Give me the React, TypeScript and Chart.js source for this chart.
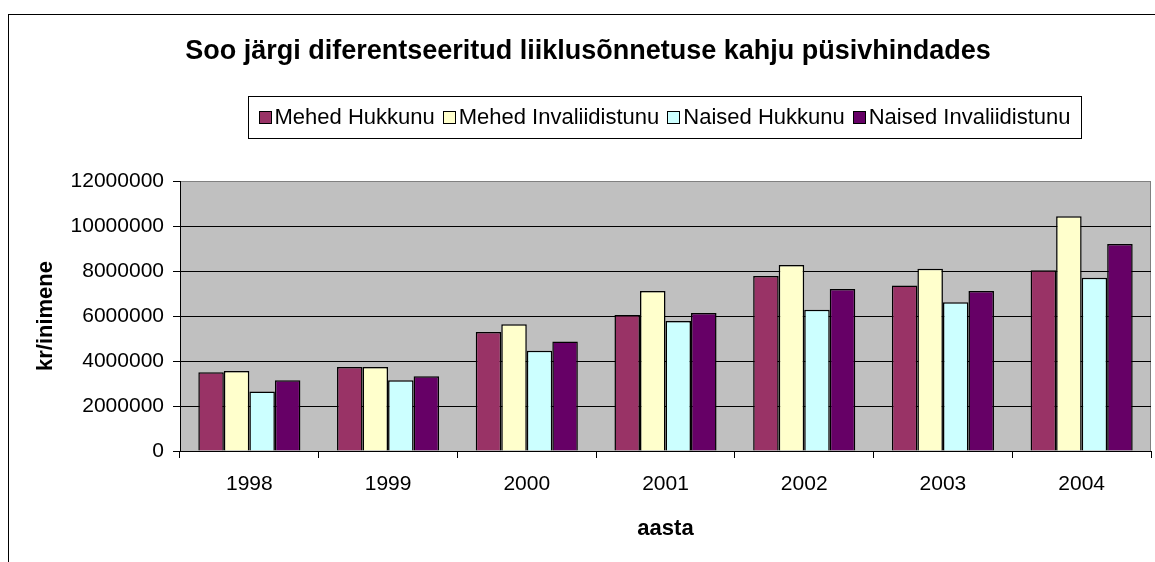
import React, { useEffect, useRef } from "react";
import { Chart, registerables } from "chart.js";

Chart.register(...registerables);

const years = ["1998", "1999", "2000", "2001", "2002", "2003", "2004"];
const mehedHukkunu = [3500000, 3730000, 5290000, 6040000, 7780000, 7360000, 8030000];
const mehedInvaliidistunu = [3560000, 3730000, 5630000, 7110000, 8270000, 8100000, 10430000];
const naisedHukkunu = [2650000, 3140000, 4460000, 5780000, 6280000, 6610000, 7700000];
const naisedInvaliidistunu = [3140000, 3320000, 4870000, 6130000, 7200000, 7110000, 9200000];
const seriesLabels = ["Mehed Hukkunu", "Mehed Invaliidistunu", "Naised Hukkunu", "Naised Invaliidistunu"];
const seriesColors = ["#993366", "#FFFFCC", "#CCFFFF", "#660066"];
const yTickValues = [0, 2000000, 4000000, 6000000, 8000000, 10000000, 12000000];
const titleText = "Soo järgi diferentseeritud liiklusõnnetuse kahju püsivhindades";
const yTitle = "kr/inimene";
const xTitle = "aasta";

const FONT = "'Liberation Sans', Arial, Helvetica, sans-serif";
const W = 1155;
const H = 562;

const framePlugin = {
  id: "framePlugin",
  beforeDraw(chart: any) {
    const { ctx, chartArea } = chart;
    ctx.save();
    ctx.fillStyle = "#ffffff";
    ctx.fillRect(0, 0, W, H);
    ctx.strokeStyle = "#000000";
    ctx.lineWidth = 1;
    ctx.strokeRect(8.5, 14.5, W + 10, H + 10);
    ctx.fillStyle = "#C0C0C0";
    ctx.fillRect(chartArea.left, chartArea.top, chartArea.right - chartArea.left, chartArea.bottom - chartArea.top);
    ctx.strokeStyle = "#808080";
    ctx.beginPath();
    ctx.moveTo(chartArea.left, chartArea.top + 0.5);
    ctx.lineTo(chartArea.right - 0.5, chartArea.top + 0.5);
    ctx.lineTo(chartArea.right - 0.5, chartArea.bottom);
    ctx.stroke();
    ctx.restore();
  },
  afterDraw(chart: any) {
    const { ctx } = chart;
    ctx.save();
    // title
    ctx.font = `bold 27px ${FONT}`;
    ctx.fillStyle = "#000";
    ctx.textAlign = "center";
    ctx.textBaseline = "middle";
    ctx.fillText(titleText, 588, 52);
    // legend
    const boxL = 248, boxR = 1081, boxT = 96, boxB = 138;
    ctx.fillStyle = "#ffffff";
    ctx.fillRect(boxL, boxT, boxR - boxL, boxB - boxT);
    ctx.strokeStyle = "#000000";
    ctx.lineWidth = 1;
    ctx.strokeRect(boxL + 0.5, boxT + 0.5, boxR - boxL, boxB - boxT);
    ctx.font = `22px ${FONT}`;
    const sq = 13, gapSq = 3, gapItem = 8;
    const widths = seriesLabels.map((l) => ctx.measureText(l).width);
    const total = widths.reduce((a, b) => a + b, 0) + seriesLabels.length * (sq + gapSq) + (seriesLabels.length - 1) * gapItem;
    let x = (boxL + boxR) / 2 - total / 2;
    const cy = (boxT + boxB) / 2;
    ctx.textBaseline = "middle";
    ctx.textAlign = "left";
    seriesLabels.forEach((l, i) => {
      ctx.fillStyle = seriesColors[i];
      ctx.fillRect(Math.round(x), Math.round(cy - sq / 2), sq, sq);
      ctx.strokeStyle = "#000";
      ctx.strokeRect(Math.round(x) + 0.5, Math.round(cy - sq / 2) + 0.5, sq - 1, sq - 1);
      ctx.fillStyle = "#000";
      ctx.fillText(l, x + sq + gapSq, cy + 1);
      x += sq + gapSq + widths[i] + gapItem;
    });
    ctx.restore();
  },
};

export default function App() {
  const ref = useRef<HTMLCanvasElement | null>(null);
  useEffect(() => {
    if (!ref.current) return;
    const data = [mehedHukkunu, mehedInvaliidistunu, naisedHukkunu, naisedInvaliidistunu];
    const chart = new Chart(ref.current, {
      type: "bar",
      data: {
        labels: years,
        datasets: seriesLabels.map((label, i) => ({
          label,
          data: data[i],
          backgroundColor: seriesColors[i],
          borderColor: "#000000",
          borderWidth: 1.5,
          categoryPercentage: 0.736,
          barPercentage: 1.0,
        })),
      },
      options: {
        animation: false,
        responsive: false,
        devicePixelRatio: 1,
        layout: { padding: { left: 0, right: 4, top: 181, bottom: 0 } },
        plugins: {
          legend: { display: false },
          tooltip: { enabled: false },
          title: { display: false },
        },
        scales: {
          x: {
            type: "category",
            offset: true,
            grid: {
              offset: true,
              drawOnChartArea: false,
              drawTicks: true,
              tickLength: 7,
              color: "#000",
            },
            border: { display: true, color: "#000", width: 1 },
            ticks: { color: "#000", font: { family: FONT, size: 21 }, padding: 14, maxRotation: 0 },
            title: {
              display: true,
              text: xTitle,
              color: "#000",
              font: { family: FONT, size: 22, weight: "bold" },
              padding: { top: 0, bottom: 20 },
            },
            afterFit: (s: any) => {
              s.height = 111;
            },
          },
          y: {
            min: 0,
            max: 12000000,
            afterBuildTicks: (s: any) => {
              s.ticks = yTickValues.map((v) => ({ value: v }));
            },
            grid: {
              color: (c: any) => (c.tick && c.tick.value === 12000000 ? "#808080" : "#000"),
              tickColor: "#000",
              tickLength: 7,
              drawTicks: true,
            },
            border: { display: true, color: "#000", width: 1 },
            ticks: {
              color: "#000",
              font: { family: FONT, size: 21 },
              padding: 9,
              callback: (v: any) => String(v),
            },
            title: {
              display: true,
              text: yTitle,
              color: "#000",
              font: { family: FONT, size: 22, weight: "bold" },
              padding: { top: 33, bottom: 0 },
            },
            afterFit: (s: any) => {
              s.width = 180;
            },
          },
        },
      },
      plugins: [framePlugin],
    } as any);
    return () => chart.destroy();
  }, []);
  return (
    <div style={{ position: "absolute", left: 0, top: 0, width: W, height: H, overflow: "hidden" }}>
      <canvas ref={ref} width={W} height={H} style={{ display: "block", width: W, height: H }} />
    </div>
  );
}
